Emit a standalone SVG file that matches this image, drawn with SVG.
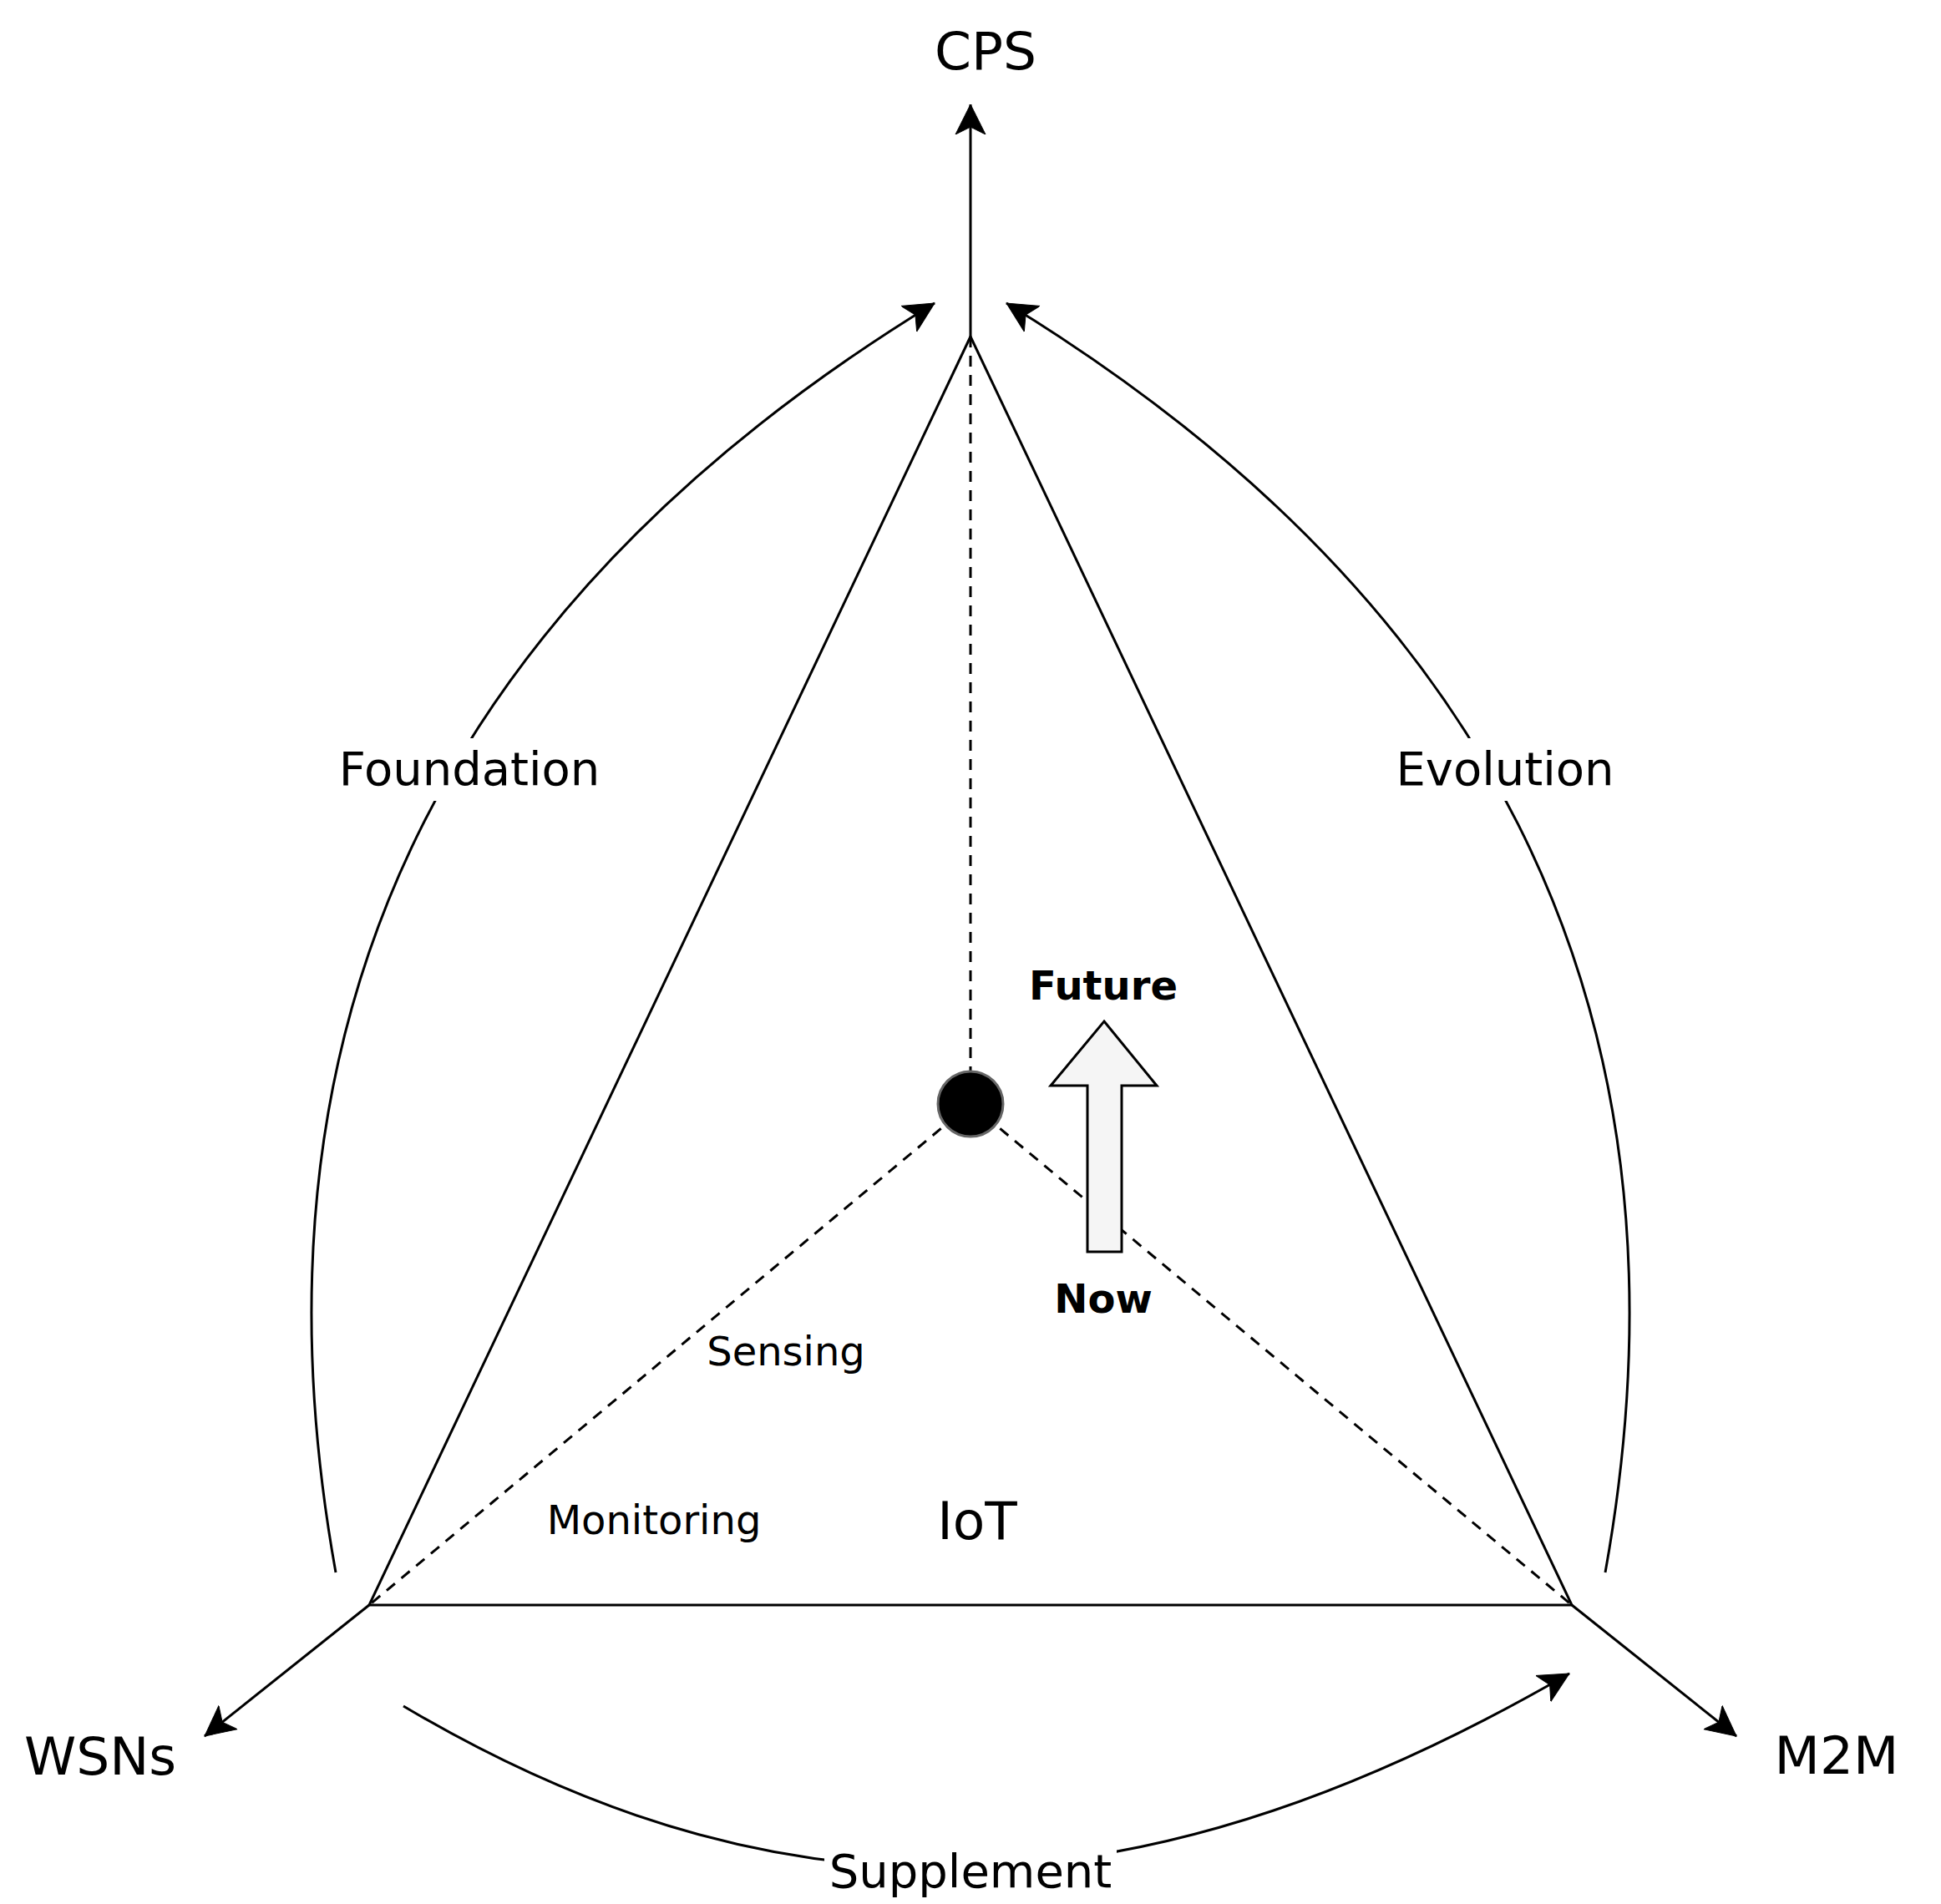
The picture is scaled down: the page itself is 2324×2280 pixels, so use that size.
<svg xmlns="http://www.w3.org/2000/svg" width="2324" height="2280" viewBox="0 0 2324 2280">
<style>
  .ln{fill:none;stroke:#000;stroke-width:3}
  .dash{fill:none;stroke:#000;stroke-width:3;stroke-dasharray:13 10}
  .t{font-family:"DejaVu Sans","Liberation Sans",sans-serif;fill:#000;text-anchor:middle}
  .big{font-size:63px}
  .mid{font-size:56px}
  .sm{font-size:48px}
  .bold{font-size:48px;font-weight:bold}
</style>
<defs>
  <marker id="arr" markerUnits="userSpaceOnUse" viewBox="-36 -19 38 38" refX="0" refY="0" markerWidth="38" markerHeight="38" orient="auto">
    <path d="M0,0 L-36,-18 L-27,0 L-36,18 Z" fill="#000" stroke="#000" stroke-width="1"/>
  </marker>
</defs>
<rect width="2324" height="2280" fill="#fff"/>
<g id="connectors">
  <path class="ln" d="M1162,403 L1162,125" marker-end="url(#arr)"/>
  <path class="ln" d="M442,1922 L245,2079" marker-end="url(#arr)"/>
  <path class="ln" d="M1882,1922 L2079,2079" marker-end="url(#arr)"/>
  <path class="ln" d="M402,1883 C276,1183 567.5,700 1119,363" marker-end="url(#arr)"/>
  <path class="ln" d="M1922,1883 C2048,1183 1756.5,700 1205,363" marker-end="url(#arr)"/>
  <path class="ln" d="M483,2043 C965,2329 1396,2283 1879,2004" marker-end="url(#arr)"/>
  <path class="dash" d="M1162,403 L1162,1322"/>
  <path class="dash" d="M1162,1322 L442,1922"/>
  <path class="dash" d="M1162,1322 L1882,1922"/>
</g>
<g id="triangle">
  <polygon class="ln" points="1162,403 442,1922 1882,1922"/>
</g>
<g id="center-dot">
  <circle cx="1162" cy="1322" r="39" fill="#000" stroke="#666" stroke-width="3"/>
</g>
<g id="future-arrow">
  <polygon points="1322,1223 1385,1300 1343,1300 1343,1499 1302,1499 1302,1300 1258,1300" fill="#f5f5f5" stroke="#000" stroke-width="3"/>
</g>
<g id="label-foundation">
  <rect x="402" y="884" width="320" height="75" fill="#fff"/>
  <text class="t mid" x="562" y="940">Foundation</text>
</g>
<g id="label-evolution">
  <rect x="1670" y="884" width="264" height="75" fill="#fff"/>
  <text class="t mid" x="1802" y="940">Evolution</text>
</g>
<g id="label-supplement">
  <rect x="987" y="2200" width="350" height="80" fill="#fff"/>
  <text class="t mid" x="1162" y="2260">Supplement</text>
</g>
<g id="node-cps"><text class="t big" x="1180" y="83">CPS</text></g>
<g id="node-wsns"><text class="t big" x="120" y="2125">WSNs</text></g>
<g id="node-m2m"><text class="t big" x="2199" y="2124">M2M</text></g>
<g id="node-iot"><text class="t big" x="1170" y="1843">IoT</text></g>
<g id="label-sensing"><text class="t sm" x="941" y="1635">Sensing</text></g>
<g id="label-monitoring"><text class="t sm" x="783" y="1837">Monitoring</text></g>
<g id="label-future"><text class="t bold" x="1321" y="1197">Future</text></g>
<g id="label-now"><text class="t bold" x="1321" y="1572">Now</text></g>
</svg>
